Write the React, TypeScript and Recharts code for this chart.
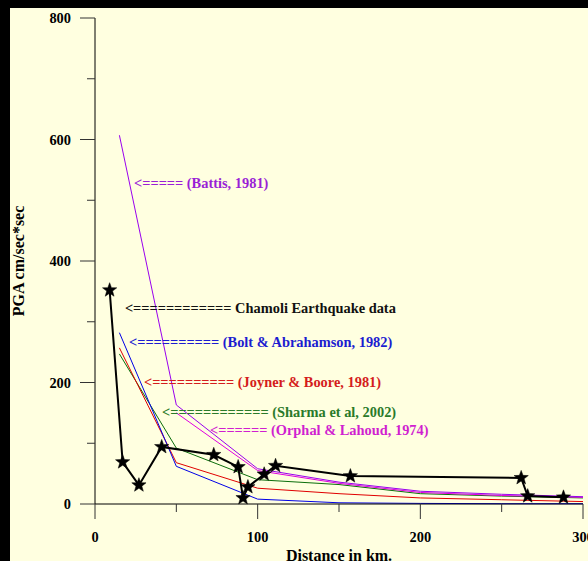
import {
  ComposedChart, Line, Scatter, XAxis, YAxis, Label,
} from 'recharts';

// distances (km) and PGA (cm/sec*sec)
const modelDist = [15, 50, 100, 150, 200, 250, 300];
const battisPga = [607, 163, 58, 36, 21, 16, 12];
const boltPga = [282, 62, 8, 2, 1, 0.5, 0.5];
const joynerPga = [257, 68, 26, 17, 10, 7, 4];
const sharmaPga = [247, 92, 40, 32, 17, 13, 10];
const orphalDist = [50, 100, 150, 200, 250, 300];
const orphalPga = [150, 55, 34, 19, 14, 11];

const chamoliDist = [9, 17, 27, 41, 73, 88, 91, 94, 104, 111, 157, 262, 266, 288];
const chamoliPga = [352, 69, 31, 94, 81, 61, 10, 28, 49, 63, 46, 43, 13, 11];

const xTicks = [0, 50, 100, 150, 200, 250, 300];
const yTicks = [0, 100, 200, 300, 400, 500, 600, 700, 800];

const noteText = [
  '<===== (Battis, 1981)',
  '<============ Chamoli Earthquake data',
  '<========== (Bolt & Abrahamson, 1982)',
  '<========== (Joyner & Boore, 1981)',
  '<============ (Sharma et al, 2002)',
  '<====== (Orphal & Lahoud, 1974)',
];
const noteColor = ['#9a1fd6', '#111111', '#1c1cd0', '#d41c1c', '#2a7a2a', '#d01fd0'];
// where each note starts, in chart units
const noteX = [24, 18.4, 20.9, 30.1, 41.2, 70.7];
const noteY = [528, 323, 267, 201, 151, 122];

const pts = (xs: number[], ys: number[]) => xs.map((x, i) => ({ x, y: ys[i] }));

const battis = pts(modelDist, battisPga);
const bolt = pts(modelDist, boltPga);
const joyner = pts(modelDist, joynerPga);
const sharma = pts(modelDist, sharmaPga);
const orphal = pts(orphalDist, orphalPga);
const chamoli = pts(chamoliDist, chamoliPga);
const notes = noteText.map((text, i) => ({ x: noteX[i], y: noteY[i], text, color: noteColor[i] }));

const FONT = '"Liberation Serif", "Times New Roman", serif';

function Star(props: any) {
  const { cx, cy } = props;
  if (cx == null || cy == null) return null;
  const R = 7.5, r = 3.1;
  const p: string[] = [];
  for (let i = 0; i < 10; i++) {
    const a = -Math.PI / 2 + (i * Math.PI) / 5;
    const rr = i % 2 === 0 ? R : r;
    p.push(`${cx + rr * Math.cos(a)},${cy + rr * Math.sin(a)}`);
  }
  return <polygon points={p.join(' ')} fill="#000" stroke="#000" strokeWidth={0.5} />;
}

function Note(props: any) {
  const { cx, cy, payload } = props;
  return (
    <text x={cx} y={cy} fill={payload.color} fontSize={14.4} fontWeight="bold"
      fontFamily={FONT} dominantBaseline="central">
      {payload.text}
    </text>
  );
}

function XTick(props: any) {
  const { x, y, payload } = props;
  const major = payload.value % 100 === 0;
  return (
    <g>
      <line x1={x} y1={y} x2={x} y2={y + (major ? 15 : 8)} stroke="#333" />
      {major && (
        <text x={x} y={y + 33} textAnchor="middle" dominantBaseline="central"
          fontSize={14.4} fontWeight="bold" fontFamily={FONT} fill="#000">
          {payload.value}
        </text>
      )}
    </g>
  );
}

function YTick(props: any) {
  const { x, y, payload } = props;
  const major = payload.value % 200 === 0;
  return (
    <g>
      <line x1={x - (major ? 15 : 8)} y1={y} x2={x} y2={y} stroke="#333" />
      {major && (
        <text x={x - 24} y={y} textAnchor="end" dominantBaseline="central"
          fontSize={14.4} fontWeight="bold" fontFamily={FONT} fill="#000">
          {payload.value}
        </text>
      )}
    </g>
  );
}

export default function App() {
  return (
    <div style={{ position: 'absolute', left: 10, top: 8, width: 578, height: 553, background: '#ffffe0' }}>
      <style>{'body{margin:0;background:#000;overflow:hidden}'}</style>
      <ComposedChart width={578} height={553} margin={{ top: 10, right: 5, left: 0, bottom: 0 }}>
        <XAxis type="number" dataKey="x" domain={[0, 300]} ticks={xTicks} interval={0}
          height={57} tickSize={0} tickMargin={0} tickLine={false} tick={<XTick />}
          axisLine={{ stroke: '#000' }}>
          <Label content={(p: any) => (
            <text x={p.viewBox.x + p.viewBox.width / 2} y={p.viewBox.y + 51} textAnchor="middle"
              dominantBaseline="central" fontSize={16} fontWeight="bold" fontFamily={FONT} fill="#000">
              Distance in km.
            </text>
          )} />
        </XAxis>
        <YAxis type="number" domain={[0, 800]} ticks={yTicks} interval={0} width={85}
          tickSize={0} tickMargin={0} tickLine={false} tick={<YTick />}
          axisLine={{ stroke: '#000' }}>
          <Label content={(p: any) => {
            const cx = p.viewBox.x + 8;
            const cy = p.viewBox.y + p.viewBox.height / 2;
            return (
              <text x={cx} y={cy} transform={`rotate(-90 ${cx} ${cy})`} textAnchor="middle"
                dominantBaseline="central" fontSize={16} fontWeight="bold" fontFamily={FONT} fill="#000">
                PGA cm/sec*sec
              </text>
            );
          }} />
        </YAxis>
        <Scatter data={notes} dataKey="y" shape={<Note />} isAnimationActive={false} />
        <Line data={sharma} dataKey="y" stroke="#0b6e0b" strokeWidth={1} dot={false} isAnimationActive={false} />
        <Line data={joyner} dataKey="y" stroke="#e00000" strokeWidth={1} dot={false} isAnimationActive={false} />
        <Line data={bolt} dataKey="y" stroke="#0000e6" strokeWidth={1} dot={false} isAnimationActive={false} />
        <Line data={orphal} dataKey="y" stroke="#e000e0" strokeWidth={1} dot={false} isAnimationActive={false} />
        <Line data={battis} dataKey="y" stroke="#9900ee" strokeWidth={1} dot={false} isAnimationActive={false} />
        <Line data={chamoli} dataKey="y" stroke="#000" strokeWidth={2} dot={<Star />} isAnimationActive={false} />
      </ComposedChart>
    </div>
  );
}
